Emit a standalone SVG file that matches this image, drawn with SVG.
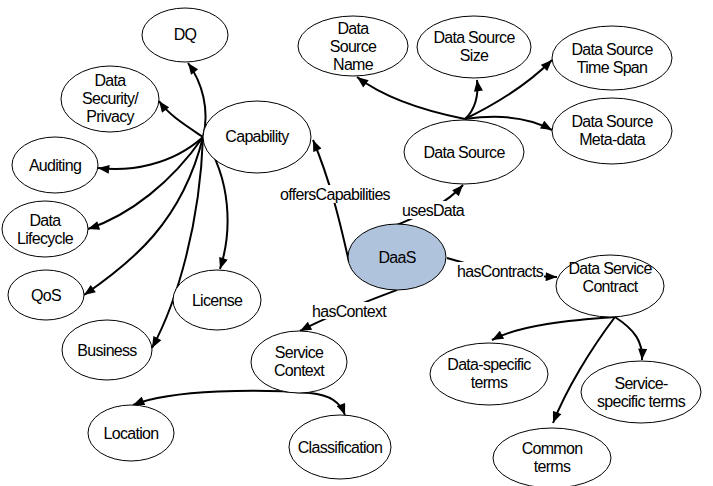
<svg xmlns="http://www.w3.org/2000/svg" width="713" height="486" viewBox="0 0 713 486">
<style>
.n ellipse{fill:#fff;stroke:#000;stroke-width:1}
.n text,.lbl text{font-family:"Liberation Sans",Arial,sans-serif;font-size:16px;text-anchor:middle;fill:#000;letter-spacing:-0.7px}
#daas ellipse{fill:#b0c3dc}
.e path{fill:none;stroke:#000;stroke-width:2}
.lbl rect{fill:#fff}
</style>
<defs>
<marker id="ah" viewBox="0 0 10 8" refX="10" refY="4" markerWidth="12" markerHeight="9" orient="auto" markerUnits="userSpaceOnUse"><path d="M0,0 L10,4 L0,8 z" fill="#000"/></marker>
</defs>
<rect width="713" height="486" fill="#fff"/>
<g id="edges" class="e">
<path d="M203,137 C210,110 202,82 188,63" marker-end="url(#ah)"/>
<path d="M203,137 C185,125 170,116 159,101" marker-end="url(#ah)"/>
<path d="M203,137 C172,165 130,172 98,168" marker-end="url(#ah)"/>
<path d="M203,137 C172,182 130,215 88,229" marker-end="url(#ah)"/>
<path d="M203,137 C182,222 132,262 84,295" marker-end="url(#ah)"/>
<path d="M203,137 C200,222 178,300 152,348" marker-end="url(#ah)"/>
<path d="M203,137 C232,180 232,232 220,269" marker-end="url(#ah)"/>
<path d="M349,262 C340,222 330,180 313,140" marker-end="url(#ah)"/>
<path d="M397,225 C420,215 445,205 463,185" marker-end="url(#ah)"/>
<path d="M447,258 C480,268 520,276 557,277" marker-end="url(#ah)"/>
<path d="M397,290 C365,302 330,315 300,331" marker-end="url(#ah)"/>
<path d="M310,393 C262,389 172,389 133,405" marker-end="url(#ah)"/>
<path d="M310,393 C330,395 340,402 345,415" marker-end="url(#ah)"/>
<path d="M615,317 C570,320 520,325 492,340" marker-end="url(#ah)"/>
<path d="M615,317 C635,330 643,342 642,360" marker-end="url(#ah)"/>
<path d="M615,317 C590,350 566,390 553,423" marker-end="url(#ah)"/>
<path d="M465,119 C420,110 382,96 357,77" marker-end="url(#ah)"/>
<path d="M465,119 C475,110 479,95 477,80" marker-end="url(#ah)"/>
<path d="M465,119 C500,102 530,82 552,60" marker-end="url(#ah)"/>
<path d="M465,119 C500,114 530,118 552,130" marker-end="url(#ah)"/>
</g>
<g id="edge-labels" class="lbl">
<rect x="277" y="185" width="116" height="18"/><text x="335" y="200">offersCapabilities</text>
<rect x="402" y="201" width="63" height="18"/><text x="433" y="216">usesData</text>
<rect x="456" y="262" width="88" height="17"/><text x="500" y="277">hasContracts</text>
<rect x="309" y="302" width="80" height="17"/><text x="349" y="317">hasContext</text>
</g>
<g id="dq" class="n"><ellipse cx="185" cy="35" rx="43" ry="27"/><text x="185" y="40">DQ</text></g>
<g id="security" class="n"><ellipse cx="110" cy="99" rx="49" ry="33"/><text x="110" y="86">Data</text><text x="110" y="104">Security/</text><text x="110" y="122">Privacy</text></g>
<g id="capability" class="n"><ellipse cx="257" cy="137" rx="54" ry="36"/><text x="257" y="142">Capability</text></g>
<g id="auditing" class="n"><ellipse cx="55" cy="165" rx="43" ry="28"/><text x="55" y="171">Auditing</text></g>
<g id="lifecycle" class="n"><ellipse cx="45" cy="229" rx="43" ry="28"/><text x="45" y="226">Data</text><text x="45" y="244">Lifecycle</text></g>
<g id="qos" class="n"><ellipse cx="46" cy="295" rx="38" ry="25"/><text x="46" y="301">QoS</text></g>
<g id="license" class="n"><ellipse cx="217" cy="300" rx="44" ry="30"/><text x="217" y="306">License</text></g>
<g id="business" class="n"><ellipse cx="107" cy="350" rx="45" ry="30"/><text x="107" y="356">Business</text></g>
<g id="daas" class="n"><ellipse cx="397" cy="257" rx="49" ry="33"/><text x="397" y="263">DaaS</text></g>
<g id="datasource" class="n"><ellipse cx="464" cy="152" rx="60" ry="32"/><text x="464" y="158">Data Source</text></g>
<g id="dsname" class="n"><ellipse cx="353" cy="46" rx="55" ry="30"/><text x="353" y="34">Data</text><text x="353" y="52">Source</text><text x="353" y="70">Name</text></g>
<g id="dssize" class="n"><ellipse cx="474" cy="47" rx="57" ry="31"/><text x="474" y="43">Data Source</text><text x="474" y="61">Size</text></g>
<g id="dstimespan" class="n"><ellipse cx="612" cy="58" rx="60" ry="32"/><text x="612" y="55">Data Source</text><text x="612" y="73">Time Span</text></g>
<g id="dsmeta" class="n"><ellipse cx="612" cy="131" rx="60" ry="33"/><text x="612" y="127">Data Source</text><text x="612" y="145">Meta-data</text></g>
<g id="contract" class="n"><ellipse cx="610" cy="286" rx="54" ry="31"/><text x="610" y="274">Data Service</text><text x="610" y="292">Contract</text></g>
<g id="dataterms" class="n"><ellipse cx="489" cy="374" rx="59" ry="31"/><text x="489" y="370">Data-specific</text><text x="489" y="388">terms</text></g>
<g id="serviceterms" class="n"><ellipse cx="641" cy="392" rx="60" ry="31"/><text x="641" y="389">Service-</text><text x="641" y="407">specific terms</text></g>
<g id="commonterms" class="n"><ellipse cx="552" cy="458" rx="59" ry="30"/><text x="552" y="454">Common</text><text x="552" y="472">terms</text></g>
<g id="servicecontext" class="n"><ellipse cx="299" cy="362" rx="48" ry="31"/><text x="299" y="358">Service</text><text x="299" y="376">Context</text></g>
<g id="location" class="n"><ellipse cx="131" cy="433" rx="43" ry="28"/><text x="131" y="439">Location</text></g>
<g id="classification" class="n"><ellipse cx="340" cy="447" rx="51" ry="32"/><text x="340" y="453">Classification</text></g>
</svg>
